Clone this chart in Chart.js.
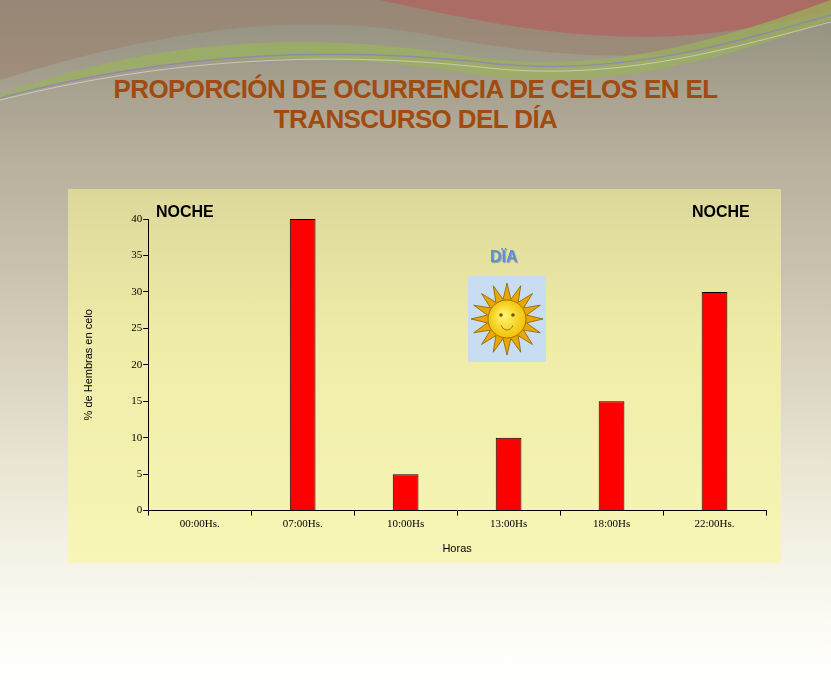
<!DOCTYPE html>
<html><head><meta charset="utf-8">
<script src="https://cdn.jsdelivr.net/npm/chart.js@4"></script>
<style>
html,body{margin:0;padding:0;}
body{width:831px;height:680px;position:relative;overflow:hidden;
background:linear-gradient(180deg,#8f8f80 0%,#b4ab98 20%,#cfc8b4 45%,#ebe7d6 70%,#fbfaf2 90%,#ffffff 100%);font-family:Arial,"Liberation Sans",sans-serif;}
#waves{position:absolute;left:0;top:0;}
h1{position:absolute;left:0;top:74px;width:831px;margin:0;text-align:center;color:#A24B10;font-size:26px;line-height:30px;font-weight:bold;letter-spacing:-0.6px;}
#panel{position:absolute;left:68px;top:189px;width:713px;height:374px;background:linear-gradient(180deg,#dcd89a 0%,#efeca8 40%,#f8f6b6 100%);}
.lab{position:absolute;font-weight:bold;font-size:16px;}
</style></head><body>
<svg id="waves" width="831" height="110">
<path d="M0,0 H831 V20 C700,70 560,60 430,35 C300,10 160,30 0,80 Z" fill="#9c7f6c" opacity="0.55"/>
<path d="M380,0 C520,30 650,60 831,10 V0 Z" fill="#b85a5a" opacity="0.6"/>
<path d="M0,95 C150,40 300,30 460,55 C600,78 720,40 831,0 V20 C720,60 600,95 460,72 C300,48 150,55 0,100 Z" fill="#9ab35a" opacity="0.7"/>
<path d="M0,98 C160,55 320,45 480,62 C620,80 740,40 831,15" stroke="#8f7fc0" stroke-width="1.5" fill="none" opacity="0.8"/>
<path d="M0,100 C160,60 320,50 480,67 C620,84 740,45 831,22" stroke="#d8d0c0" stroke-width="1" fill="none" opacity="0.8"/>
</svg>
<h1>PROPORCIÓN DE OCURRENCIA DE CELOS EN EL<br>TRANSCURSO DEL DÍA</h1>
<div id="panel"><canvas id="c" width="713" height="374"></canvas></div>
<div class="lab" style="left:156px;top:203px;color:#000">NOCHE</div>
<div class="lab" style="left:692px;top:203px;color:#000">NOCHE</div>
<div class="lab" style="left:490px;top:248px;color:#5b8fd6;text-shadow:1px 1px 1px #999">DÏA</div>
<canvas id="sun" width="78" height="86" style="position:absolute;left:468px;top:276px;"></canvas>
<script>
const categories=['00:00Hs.','07:00Hs.','10:00Hs','13:00Hs','18:00Hs','22:00Hs.'];
const values=[0,40,5,10,15,30];
const yTicks=[0,5,10,15,20,25,30,35,40];

(function(){const c=document.getElementById('sun').getContext('2d');
c.fillStyle='#c8dcf2';c.fillRect(0,0,78,86);
const cx=39,cy=43;c.fillStyle='#e8a800';c.beginPath();
for(let i=0;i<32;i++){const a=i*Math.PI/16;const r=i%2?20:36;c.lineTo(cx+r*Math.cos(a),cy+r*Math.sin(a));}
c.closePath();c.fill();c.strokeStyle='#8a6000';c.lineWidth=0.8;c.stroke();
const g=c.createRadialGradient(cx-4,cy-4,2,cx,cy,20);g.addColorStop(0,'#fff36a');g.addColorStop(1,'#f0c000');
c.fillStyle=g;c.beginPath();c.arc(cx,cy,19,0,Math.PI*2);c.fill();c.stroke();
c.fillStyle='#7a5000';c.beginPath();c.arc(cx-6,cy-4,1.8,0,7);c.arc(cx+6,cy-4,1.8,0,7);c.fill();
c.beginPath();c.arc(cx,cy+5,6,0.2,Math.PI-0.2);c.stroke();})();

new Chart(document.getElementById('c'),{
type:'bar',
data:{labels:categories,datasets:[{data:values,backgroundColor:'#ff0000',borderColor:'#000',borderWidth:1,barPercentage:0.25,categoryPercentage:1}]},
options:{responsive:false,animation:false,
layout:{padding:{top:30,right:15,left:14,bottom:3}},
plugins:{legend:{display:false},tooltip:{enabled:false}},
scales:{
x:{offset:true,grid:{display:true,drawOnChartArea:false,color:'#000',tickLength:5,offset:true},border:{color:'#000'},
ticks:{color:'#000',font:{family:'"Liberation Serif",serif',size:11},maxRotation:0,padding:2},
title:{display:true,text:'Horas',color:'#000',font:{family:'Arial',size:11},padding:{top:10}}},
y:{min:0,max:40,afterBuildTicks:s=>{s.ticks=yTicks.map(v=>({value:v}));},
grid:{drawOnChartArea:false,color:'#000',tickLength:5},border:{color:'#000'},
ticks:{color:'#000',font:{family:'"Liberation Serif",serif',size:11},padding:1},
title:{display:true,text:'% de Hembras en celo',color:'#000',font:{family:'Arial',size:11},padding:{top:0,bottom:35}}}
}}});
</script></body></html>
